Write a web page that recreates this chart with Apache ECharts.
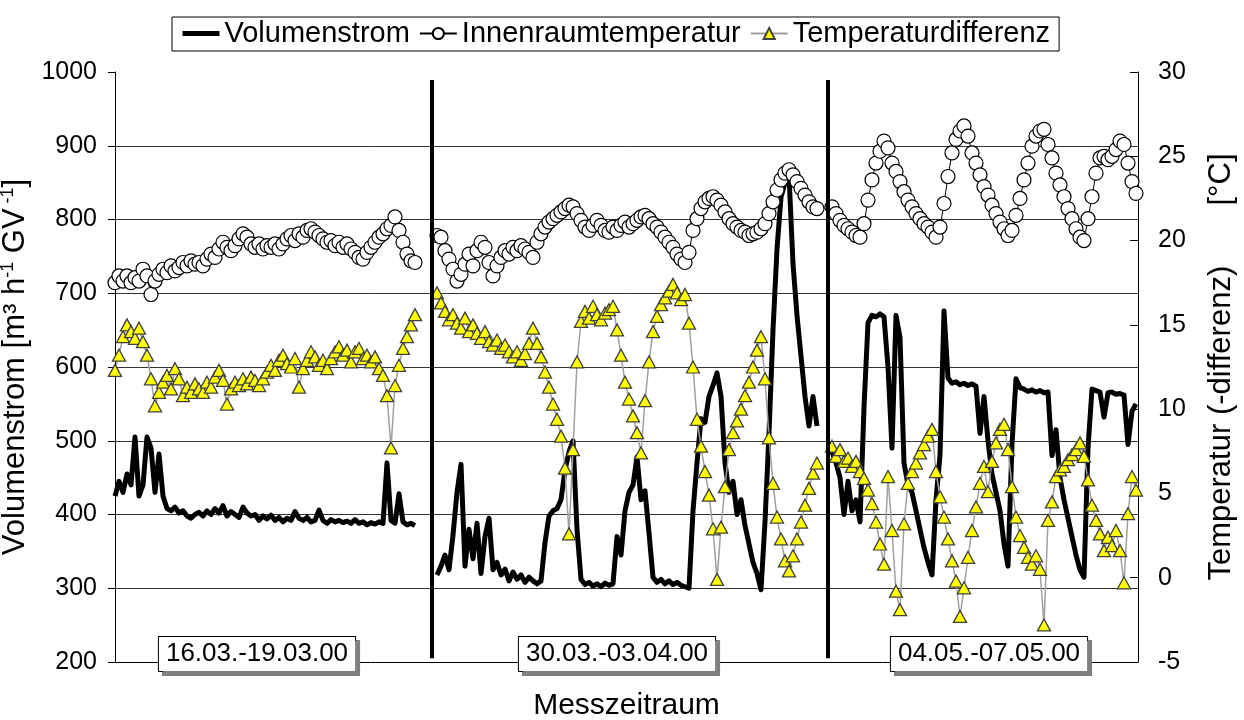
<!DOCTYPE html>
<html>
<head>
<meta charset="utf-8">
<script src="https://cdn.jsdelivr.net/npm/echarts@6/dist/echarts.min.js"></script>
<style>
  html, body { margin: 0; padding: 0; background: #fff; }
  #chart { width: 1244px; height: 720px; }
</style>
</head>
<body>
<div id="chart"></div>
<script>
// Three measurement periods, hourly readings.
// x axis: hours along a continuous "Messzeitraum" scale.
const segStart = [0, 80.5, 179.25];      // first hour of each period on the x scale
const dividers = [79.25, 178.25];        // separators between the periods
const xMax = 255.75;
const periodLabels = ['16.03.-19.03.00', '30.03.-03.04.00', '04.05.-07.05.00'];
const periodLabelPos = [35.5, 125.5, 218.5];

// Volumenstrom [m³ h-1 GV-1]
const volumenstrom1 = [425,445,430,455,440,505,425,440,505,490,
  430,482,425,408,405,410,402,405,398,395,
  400,403,398,405,400,408,402,412,398,404,
  400,396,410,402,398,400,392,398,394,399,
  392,396,390,395,392,404,395,392,396,390,
  392,406,392,388,393,390,392,389,391,388,
  393,388,390,386,389,387,390,388,470,392,
  388,428,390,386,388,385];
const volumenstrom2 = [318,330,345,325,372,430,468,330,380,340,
  388,320,370,395,325,335,318,326,310,322,
  312,318,308,315,310,306,310,362,398,405,
  408,420,460,485,500,380,312,305,308,303,
  306,302,307,304,306,370,345,405,430,440,
  478,420,432,375,315,308,312,306,310,305,
  308,304,302,300,405,470,530,525,560,575,
  592,560,470,430,445,400,420,385,360,335,
  320,298,390,510,650,760,830,850,860,740,
  670,615,560,520,560,520];
const volumenstrom3 = [485,470,450,400,445,405,420,390,545,660,
  670,668,672,668,600,490,670,640,470,440,
  430,405,380,355,335,318,420,480,676,585,
  578,580,576,578,575,577,574,510,560,500,
  455,430,405,360,330,495,584,572,570,567,
  569,566,568,565,566,480,515,450,420,395,
  370,345,325,315,490,570,568,566,532,565,
  566,563,564,562,495,540,550];

// Innenraumtemperatur [°C]
const innenraum1 = [17.5,17.9,17.6,17.9,17.5,17.8,17.6,18.3,17.9,16.8,
  17.6,18.0,18.3,18.1,18.5,18.2,18.4,18.7,18.5,18.8,
  18.6,18.7,18.5,18.9,19.2,19.0,19.5,19.9,19.6,19.4,
  19.7,20.1,20.4,20.2,19.8,19.6,19.8,19.5,19.7,19.6,
  19.8,19.5,19.8,20.1,20.3,20.0,20.4,20.2,20.6,20.7,
  20.5,20.3,20.1,19.9,20.0,19.7,19.9,19.6,19.8,19.5,
  19.3,19.0,18.9,19.3,19.6,19.9,20.2,20.4,20.7,20.9,
  21.4,20.6,19.9,19.2,18.8,18.7];
const innenraum2 = [20.3,20.2,19.4,18.9,18.3,17.6,18.0,18.6,19.2,18.5,
  19.4,19.9,19.6,18.7,17.9,18.5,19.0,19.4,19.2,19.6,
  19.4,19.7,19.5,19.3,19.0,19.9,20.4,20.8,21.1,21.3,
  21.5,21.7,21.9,22.1,22.0,21.6,21.2,20.8,20.6,20.9,
  21.2,20.9,20.6,20.5,20.8,20.6,20.9,21.1,20.8,21.0,
  21.2,21.4,21.5,21.3,21.0,20.8,20.5,20.2,19.9,19.6,
  19.2,18.9,18.7,19.3,20.6,21.3,21.9,22.3,22.5,22.6,
  22.4,22.1,21.7,21.3,21.0,20.8,20.6,20.5,20.3,20.4,
  20.5,20.7,21.0,21.6,22.3,23.0,23.6,24.0,24.2,23.9,
  23.5,23.1,22.7,22.3,22.0,21.9];
const innenraum3 = [22.0,21.6,21.2,20.9,20.7,20.5,20.3,20.2,21.0,22.4,
  23.6,24.6,25.3,25.9,25.5,24.6,24.1,23.5,22.9,22.4,
  22.0,21.6,21.3,21.0,20.8,20.5,20.2,20.8,22.2,23.8,
  25.2,26.0,26.5,26.8,26.2,25.2,24.6,23.9,23.2,22.7,
  22.1,21.6,21.1,20.7,20.3,20.6,21.5,22.5,23.6,24.6,
  25.6,26.2,26.5,26.6,25.7,24.9,24.0,23.3,22.6,21.9,
  21.3,20.7,20.2,20.0,21.3,22.6,24.0,24.9,25.0,24.8,
  25.0,25.4,25.9,25.7,24.6,23.5,22.8];

// Temperaturdifferenz [K]
const differenz1 = [12.3,13.2,14.3,15.0,14.6,14.2,14.8,14.0,13.2,11.8,
  10.2,11.0,11.6,12.0,11.2,12.4,11.8,10.8,11.3,11.0,
  11.5,11.2,11.0,11.6,11.3,11.9,12.3,11.7,10.3,11.2,
  11.6,11.4,11.8,11.5,11.9,11.7,11.4,11.8,12.2,12.6,
  12.3,12.9,13.2,12.7,12.5,13.0,11.3,12.4,12.9,13.4,
  13.1,12.6,12.9,12.4,13.0,13.4,13.7,13.2,13.5,12.8,
  13.4,13.6,13.0,13.2,12.8,13.1,12.4,12.0,10.8,7.7,
  11.4,12.6,13.6,14.3,15.0,15.6];
const differenz2 = [16.9,16.3,15.8,15.3,15.6,15.1,14.8,15.4,14.6,15.0,
  14.5,14.2,14.6,14.0,13.8,14.1,13.6,13.8,13.4,13.1,
  13.4,12.9,13.3,13.9,14.8,13.9,13.1,12.2,11.3,10.3,
  9.4,8.4,6.5,2.6,7.6,12.8,15.2,15.8,15.4,16.1,
  15.6,15.3,15.7,15.9,16.1,14.7,13.2,11.6,10.6,9.6,
  8.6,7.4,10.5,12.8,14.6,15.5,16.2,16.6,17.0,17.4,
  16.9,16.5,16.8,15.1,12.5,9.4,7.8,6.3,4.9,2.9,
  -0.1,3.0,5.4,7.6,8.6,9.3,10.0,10.8,11.6,12.5,
  13.5,14.3,11.8,8.3,5.6,3.6,2.3,1.0,0.4,1.3,
  2.3,3.3,4.3,5.3,6.2,6.8];
const differenz3 = [7.8,7.2,7.6,6.9,7.1,6.6,6.9,6.3,5.9,5.2,
  4.4,3.3,2.0,0.8,6.0,2.8,-0.8,-1.9,3.2,5.6,
  6.3,6.8,7.4,7.9,8.4,8.8,6.3,4.8,3.6,2.3,
  1.0,-0.2,-2.3,-0.6,1.2,2.8,4.2,5.6,6.6,5.1,
  6.9,8.0,8.8,9.1,7.6,5.4,3.6,2.5,1.8,1.2,
  0.8,1.3,0.5,-2.8,3.4,4.5,6.0,6.4,6.6,7.0,
  7.3,7.6,8.0,7.2,5.8,4.3,3.4,2.6,1.6,2.4,
  1.9,2.8,1.6,-0.3,3.8,6.0,5.2];

// Hourly values of the three periods as [hour, value]; a '-' gap breaks the line between periods.
function joinPeriods(periods) {
  const out = [];
  periods.forEach((vals, j) => {
    if (j > 0) out.push([dividers[j - 1], '-']);
    vals.forEach((v, i) => out.push([segStart[j] + i, v]));
  });
  return out;
}

const FONT = "'Liberation Sans', Arial, sans-serif";
const chart = echarts.init(document.getElementById('chart'), null, { renderer: 'canvas' });

chart.setOption({
  animation: false,
  backgroundColor: '#fff',
  textStyle: { fontFamily: FONT, color: '#000' },
  grid: { left: 115, right: 106, top: 72, bottom: 58, outerBoundsMode: 'none', containLabel: false },
  legend: {
    left: 172, top: 17,
    padding: [2, 9, 3, 8],
    itemGap: 9,
    itemWidth: 37,
    itemHeight: 14,
    borderColor: '#000',
    borderWidth: 1,
    textStyle: { fontSize: 29, color: '#000', fontFamily: FONT },
    data: [
      { name: 'Volumenstrom', itemStyle: { opacity: 0 }, lineStyle: { width: 5, color: '#000' } },
      { name: 'Innenraumtemperatur' },
      { name: 'Temperaturdifferenz' }
    ]
  },
  xAxis: {
    type: 'value',
    min: 0, max: xMax,
    axisLine: { show: true, onZero: false, lineStyle: { color: '#000', width: 1 } },
    axisTick: { show: false },
    splitLine: { show: false },
    axisLabel: {
      customValues: periodLabelPos,
      formatter: v => periodLabels[periodLabelPos.indexOf(v)] || '',
      margin: -8,
      verticalAlign: 'middle',
      fontSize: 26,
      lineHeight: 30,
      color: '#000',
      fontFamily: FONT,
      backgroundColor: '#fff',
      borderColor: '#000',
      borderWidth: 1,
      padding: [2, 7, 2, 7],
      shadowColor: '#808080',
      shadowBlur: 0,
      shadowOffsetX: 4,
      shadowOffsetY: 4
    },
    name: 'Messzeitraum',
    nameLocation: 'middle',
    nameGap: 29,
    nameTextStyle: { fontSize: 30, color: '#000', fontFamily: FONT }
  },
  yAxis: [
    {
      type: 'value', position: 'left',
      min: 200, max: 1000, interval: 100,
      axisLine: { show: true, lineStyle: { color: '#000', width: 1 } },
      axisTick: { show: true, inside: false, length: 7, lineStyle: { color: '#000' } },
      axisLabel: { fontSize: 25, color: '#000', margin: 18, fontFamily: FONT, formatter: v => String(v) },
      splitLine: { show: true, showMinLine: false, showMaxLine: false, lineStyle: { color: '#333', width: 1 } },
      name: '{t|Volumenstrom [m³ h}{s|-1}{t| GV}{s| -1}{t|]}',
      nameLocation: 'middle',
      nameGap: 66,
      nameTextStyle: {
        fontFamily: FONT,
        rich: {
          t: { fontSize: 31, color: '#000', fontFamily: FONT },
          s: { fontSize: 18, color: '#000', fontFamily: FONT, verticalAlign: 'top', padding: [0, 0, 13, 0] }
        }
      }
    },
    {
      type: 'value', position: 'right',
      min: -5, max: 30, interval: 5,
      axisLine: { show: true, lineStyle: { color: '#000', width: 1 } },
      axisTick: { show: true, inside: true, length: 8, lineStyle: { color: '#000' } },
      axisLabel: { fontSize: 25, color: '#000', margin: 20, fontFamily: FONT, formatter: v => String(v) },
      splitLine: { show: false },
      name: 'Temperatur (-differenz)       [°C]',
      nameLocation: 'middle',
      nameGap: 68,
      nameTextStyle: { fontSize: 31, color: '#000', fontFamily: FONT }
    }
  ],
  series: [
    {
      name: 'Volumenstrom',
      type: 'line',
      yAxisIndex: 0,
      data: joinPeriods([volumenstrom1, volumenstrom2, volumenstrom3]),
      symbol: 'none',
      connectNulls: false,
      lineStyle: { color: '#000', width: 5, join: 'round' },
      itemStyle: { color: '#000' },
      z: 2,
      markLine: {
        silent: true,
        symbol: ['none', 'none'],
        label: { show: false },
        lineStyle: { color: '#000', width: 4, type: 'solid' },
        emphasis: { disabled: true },
        data: dividers.map(x => [{ coord: [x, 989] }, { coord: [x, 205] }])
      }
    },
    {
      name: 'Innenraumtemperatur',
      type: 'line',
      yAxisIndex: 1,
      data: joinPeriods([innenraum1, innenraum2, innenraum3]),
      symbol: 'circle',
      symbolSize: 14,
      connectNulls: false,
      lineStyle: { color: '#000', width: 1 },
      itemStyle: { color: '#fff', borderColor: '#000', borderWidth: 1.2 },
      z: 3
    },
    {
      name: 'Temperaturdifferenz',
      type: 'line',
      yAxisIndex: 1,
      data: joinPeriods([differenz1, differenz2, differenz3]),
      symbol: 'triangle',
      symbolSize: [13, 12],
      connectNulls: false,
      lineStyle: { color: '#a0a0a0', width: 1.5 },
      itemStyle: { color: '#ffff00', borderColor: '#404040', borderWidth: 1.3 },
      z: 4
    }
  ]
});
</script>
</body>
</html>
